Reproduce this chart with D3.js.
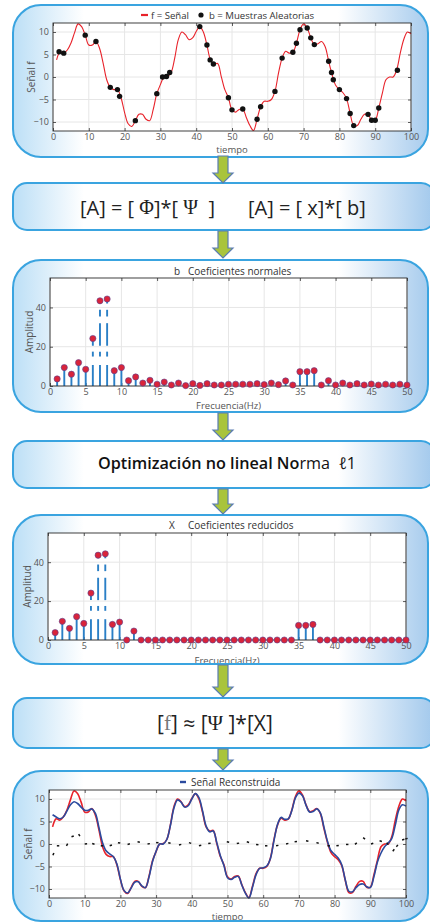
<!DOCTYPE html>
<html><head><meta charset="utf-8">
<script src="https://cdn.jsdelivr.net/npm/d3@7"></script>
<style>
body{margin:0;background:#fff}
svg{display:block}
text{font-family:"Open Sans","Noto Sans",sans-serif}
</style>
</head><body>
<svg id="c" width="430" height="923"></svg>
<script>
// ---------- DATA ----------
// original signal f, t = 1..100
const signalF = [3.8,5.6,5.3,6.0,7.5,9.8,11.8,11.2,9.3,7.1,
 7.1,7.9,6.4,3.1,-0.6,-2.3,-2.8,-2.8,-4.6,-7.9,
 -10.4,-11.0,-9.7,-8.3,-8.3,-9.4,-9.7,-7.2,-3.7,-1.7,
 0.0,0.1,1.0,4.2,8.3,10.0,9.4,8.3,8.7,10.1,
 11.2,10.0,7.1,3.8,2.9,3.0,0.1,-2.8,-4.6,-7.3,
 -7.8,-7.2,-7.1,-9.0,-10.8,-11.9,-9.4,-6.6,-5.4,-5.4,
 -5.0,-3.2,0.9,4.2,5.7,5.3,5.5,7.5,10.5,11.8,
 10.9,8.7,7.2,7.4,7.9,6.8,3.5,0.4,-1.9,-2.8,
 -3.5,-4.8,-8.1,-10.8,-10.8,-9.4,-8.3,-8.3,-9.6,-9.6,
 -6.9,-3.6,-0.6,0.0,0.0,1.6,5.3,8.4,10.0,9.6];
// reconstructed signal, t = 1..100
const signalRec = [6.5,6.0,5.6,6.0,7.3,8.7,9.4,9.0,8.2,7.5,
 7.5,7.8,6.8,3.6,0.3,-1.5,-2.2,-2.8,-4.4,-7.8,
 -10.3,-10.9,-9.8,-8.5,-8.4,-9.3,-9.7,-7.4,-3.9,-1.6,
 0.0,0.0,1.0,4.1,8.0,9.8,9.3,8.2,8.5,10.0,
 11.2,10.3,7.4,4.0,2.7,2.9,0.3,-2.6,-4.8,-7.5,
 -7.9,-7.4,-7.2,-9.1,-10.9,-12.0,-9.6,-6.8,-5.4,-5.3,
 -4.9,-3.3,0.7,4.3,5.9,5.5,5.6,7.4,10.2,11.3,
 10.7,8.6,7.1,7.2,7.8,6.9,3.8,0.6,-1.5,-2.3,
 -3.1,-4.6,-8.0,-10.5,-10.6,-9.7,-9.0,-8.9,-9.5,-9.7,
 -7.3,-4.0,-2.0,-0.6,0.2,1.2,4.2,7.6,8.7,8.4];
// random samples b
const sampleT = [1.7,3,9,12,16,18,18.6,23,29,30.6,31.7,32.6,41,43,43.9,44.8,49,50,53,57,58,62,64,67,68,69,71,72,73,77,77.8,78.3,80,82,83,84,88,89,90,91,96.2];
const sampleV = [5.6,5.3,9.3,7.9,-2.3,-2.8,-4.3,-9.7,-3.7,0.0,0.1,1.0,11.2,7.1,3.8,2.9,-4.6,-7.3,-7.1,-9.4,-6.6,-3.2,4.2,5.5,7.5,10.5,10.9,8.7,7.2,3.5,1.0,-0.6,-2.8,-4.8,-8.1,-10.8,-8.3,-9.6,-9.6,-6.9,1.5];
// reconstruction error (dotted)
const errT = [1.1,2.2,4.9,6.3,8.3,10,12.1,14.5,17,19.3,22,24.8,27.6,30,33.4,36.4,39.2,42,44.6,49.8,52.6,55.4,58,60.5,63.6,66.4,68.8,72,74.9,78,80.5,83.2,85.7,88,90.2,92.6,94.6,96.3,97.3,98.9,99.8];
const errV = [-2.5,-0.4,-0.4,1.6,2.2,0,0.1,-0.4,-0.4,0.3,-0.1,0.5,0,0.3,0.3,-0.2,0.3,-0.4,0.1,0.5,0.1,0.5,-0.1,-0.4,-0.4,0,0.5,0.7,0.3,-0.4,-0.4,-0.1,-0.1,1.4,0,0.7,0.3,-1.6,-0.6,0.9,1.1];
// coefficients, k = 1..50
const coefNormal = [3.6,9.4,6.0,11.9,8.5,24.2,43.4,44.3,7.8,9.4,
 2.7,4.6,1.5,2.9,0.9,2.0,0.5,1.5,0.2,1.2,
 0.3,1.2,0.5,0.5,0.9,0.9,0.9,0.9,1.2,0.7,
 1.5,0.7,2.6,0.5,7.3,7.3,7.8,0.5,2.7,0.5,
 1.5,0.5,1.2,0.5,1.0,0.5,0.9,0.5,0.9,0.5];
const coefReduced = [3.8,9.6,6.0,12.0,8.5,24.1,43.6,44.3,8.0,9.2,
 0,4.6,0,0,0,0,0,0,0,0,
 0,0,0,0,0,0,0,0,0,0,
 0,0,0,0,7.5,7.5,8.0,0,0,0,
 0,0,0,0,0,0,0,0,0,0];
const timeTicks = [0,10,20,30,40,50,60,70,80,90,100];
const signalTicks = [-10,-5,0,5,10];
const freqTicks = [0,5,10,15,20,25,30,35,40,45,50];
const ampTicks = [0,20,40];

// ---------- DRAW ----------
const svg = d3.select('#c');
const defs = svg.append('defs');
const grad = defs.append('linearGradient').attr('id','bg')
  .attr('gradientUnits','userSpaceOnUse').attr('x1',13).attr('x2',430).attr('y1',0).attr('y2',0);
[[0,'#bcdff6'],[0.17,'#ffffff'],[0.78,'#ffffff'],[1,'#a6cbed']].forEach(s=>
  grad.append('stop').attr('offset',s[0]).attr('stop-color',s[1]));

const BOXC = '#3aa4e0';
function boxFill(y0,y1,rx,w){
  svg.append('rect').attr('x',13).attr('y',y0).attr('width',w).attr('height',y1-y0)
    .attr('rx',rx).attr('fill','url(#bg)');
}
function boxStroke(y0,y1,rx,w){
  svg.append('rect').attr('x',13).attr('y',y0).attr('width',w).attr('height',y1-y0)
    .attr('rx',rx).attr('fill','none').attr('stroke',BOXC).attr('stroke-width',2);
}
function arrow(y0,y1){
  const cx=223, sw=5, hw=10, hl=10;
  const p = `M${cx-sw},${y0} L${cx+sw},${y0} L${cx+sw},${y1-hl} L${cx+hw},${y1-hl} L${cx},${y1} L${cx-hw},${y1-hl} L${cx-sw},${y1-hl} Z`;
  svg.append('path').attr('d',p).attr('fill','#a9c43c').attr('stroke','#5a7cb2').attr('stroke-width',1.2);
}

const panels = [[5,157],[260,412],[515,664],[771,921]];
const procs = [[183,230],[441,488],[698,748]];
panels.forEach(p=>boxFill(p[0],p[1],28,415));
procs.forEach(p=>boxFill(p[0],p[1],14,422));

function axes(x, y, xt, yt, xlab, ylab, xlabY, ylabX){
  const g = svg.append('g');
  const [x0,x1]=x.range(), [y0,y1]=[y.range()[1],y.range()[0]];
  g.append('rect').attr('x',x0).attr('y',y0).attr('width',x1-x0).attr('height',y1-y0).attr('fill','#fff');
  xt.forEach(v=>g.append('line').attr('x1',x(v)).attr('x2',x(v)).attr('y1',y0).attr('y2',y1).attr('stroke','#e6e6e6').attr('stroke-width',1));
  yt.forEach(v=>g.append('line').attr('x1',x0).attr('x2',x1).attr('y1',y(v)).attr('y2',y(v)).attr('stroke','#e6e6e6').attr('stroke-width',1));
  const style = s=>{ s.select('.domain').remove();
    s.selectAll('line').attr('stroke','#333').attr('stroke-width',0.8);
    s.selectAll('text').attr('fill','#555').attr('font-size',9).attr('font-family','"Open Sans",sans-serif'); };
  g.append('g').attr('transform',`translate(0,${y1})`).call(d3.axisBottom(x).tickValues(xt).tickSize(-3).tickPadding(3)).call(style);
  g.append('g').attr('transform',`translate(0,${y0})`).call(d3.axisTop(x).tickValues(xt).tickSize(-3).tickFormat('')).call(style);
  g.append('g').attr('transform',`translate(${x0},0)`).call(d3.axisLeft(y).tickValues(yt).tickSize(-3).tickPadding(4)).call(style);
  g.append('g').attr('transform',`translate(${x1},0)`).call(d3.axisRight(y).tickValues(yt).tickSize(-3).tickFormat('')).call(style);
  g.append('text').attr('x',(x0+x1)/2).attr('y',xlabY).attr('text-anchor','middle').attr('dominant-baseline','central')
    .attr('font-size',9.5).attr('fill','#555').text(xlab);
  g.append('text').attr('transform',`translate(${ylabX},${(y0+y1)/2}) rotate(-90)`).attr('text-anchor','middle')
    .attr('dominant-baseline','central').attr('font-size',10).attr('fill','#555').text(ylab);
  return g;
}
function frame(x,y){
  const [x0,x1]=x.range(), [y0,y1]=[y.range()[1],y.range()[0]];
  svg.append('rect').attr('x',x0).attr('y',y0).attr('width',x1-x0).attr('height',y1-y0)
    .attr('fill','none').attr('stroke','#2b2b2b').attr('stroke-width',0.9);
}

// ---- Panel 1: signal + samples ----
{
  const x = d3.scaleLinear().domain([0,100]).range([53,411]);
  const y = d3.scaleLinear().domain([-12,12]).range([131,23]);
  axes(x,y,timeTicks,signalTicks,'tiempo','Señal f',149,31);
  const line = d3.line().x((d,i)=>x(i+1)).y(d=>y(d)).curve(d3.curveCatmullRom.alpha(0.5));
  svg.append('path').datum(signalF).attr('d',line).attr('fill','none').attr('stroke','#e8222a').attr('stroke-width',1.1);
  svg.append('g').selectAll('circle').data(sampleT).join('circle')
    .attr('cx',d=>x(d)).attr('cy',(d,i)=>y(sampleV[i])).attr('r',2.7).attr('fill','#111');
  frame(x,y);
  svg.append('line').attr('x1',141).attr('x2',148).attr('y1',15).attr('y2',15).attr('stroke','#e8222a').attr('stroke-width',2.2);
  svg.append('text').attr('x',151).attr('y',15).attr('dominant-baseline','central').attr('font-size',9.6).attr('fill','#333').text('f = Señal');
  svg.append('circle').attr('cx',201).attr('cy',15).attr('r',2.6).attr('fill','#111');
  svg.append('text').attr('x',209).attr('y',15).attr('dominant-baseline','central').attr('font-size',9.6).attr('fill','#333').text('b = Muestras Aleatorias');
}

// ---- stem panels ----
const gaps = [[10.7,15],[17.5,20.5],[32,35.4],[38.8,42]];
function stemPanel(vals, x0, x1, yTop, yBot, titleY, tLetter, tLetterX, tText, xlabY, ylabX){
  const x = d3.scaleLinear().domain([0,50]).range([x0,x1]);
  const y = d3.scaleLinear().domain([0,55]).range([yBot,yTop]);
  axes(x,y,freqTicks,ampTicks,'Frecuencia(Hz)','Amplitud',xlabY,ylabX);
  const g = svg.append('g');
  vals.forEach((v,i)=>{
    let segs=[[0,v]];
    gaps.forEach(gp=>{
      segs = segs.flatMap(s=>{
        if(gp[1]<=s[0]||gp[0]>=s[1]) return [s];
        const out=[]; if(gp[0]>s[0]) out.push([s[0],gp[0]]); if(gp[1]<s[1]) out.push([gp[1],s[1]]); return out;
      });
    });
    segs.forEach(s=>g.append('line').attr('x1',x(i+1)).attr('x2',x(i+1)).attr('y1',y(s[0])).attr('y2',y(s[1]))
      .attr('stroke','#2a7fc6').attr('stroke-width',1.9));
  });
  frame(x,y);
  svg.append('g').selectAll('circle').data(vals).join('circle')
    .attr('cx',(d,i)=>x(i+1)).attr('cy',d=>y(d)).attr('r',3.1)
    .attr('fill','#d9243a').attr('stroke','#5a3f8f').attr('stroke-width',0.6);
  svg.append('text').attr('x',tLetterX).attr('y',titleY).attr('dominant-baseline','central').attr('font-size',10).attr('fill','#333').text(tLetter);
  svg.append('text').attr('x',188).attr('y',titleY).attr('dominant-baseline','central').attr('font-size',10).attr('fill','#333').text(tText);
}
stemPanel(coefNormal,50,407,278,386,271,'b',174,'Coeficientes normales',405,29);
stemPanel(coefReduced,48,406,533,640,525,'X',169,'Coeficientes reducidos',660,27);

// ---- Panel 4: reconstruction ----
{
  const x = d3.scaleLinear().domain([0,100]).range([49,406]);
  const y = d3.scaleLinear().domain([-12,12]).range([898,790]);
  axes(x,y,timeTicks,signalTicks,'tiempo','Señal f',916,28);
  const line = d3.line().x((d,i)=>x(i+1)).y(d=>y(d)).curve(d3.curveCatmullRom.alpha(0.5));
  svg.append('path').datum(signalF).attr('d',line).attr('fill','none').attr('stroke','#e8222a').attr('stroke-width',1.6);
  svg.append('path').datum(signalRec).attr('d',line).attr('fill','none').attr('stroke','#2b4a9e').attr('stroke-width',1.6);
  const eg = svg.append('g');
  errT.forEach((t,i)=>{
    const px=x(t), py=y(errV[i]);
    const j = Math.min(i+1, errT.length-1), k = j===i ? i-1 : j;
    let dx = x(errT[k])-px, dy = y(errV[k])-py; if(k<i){dx=-dx;dy=-dy;}
    const L = Math.hypot(dx,dy)||1;
    eg.append('line').attr('x1',px).attr('y1',py).attr('x2',px+dx/L*2.4).attr('y2',py+dy/L*2.4)
      .attr('stroke','#111').attr('stroke-width',1.5);
  });
  frame(x,y);
  svg.append('line').attr('x1',180).attr('x2',186).attr('y1',782).attr('y2',782).attr('stroke','#2b4a9e').attr('stroke-width',2.4);
  svg.append('text').attr('x',191).attr('y',782).attr('dominant-baseline','central').attr('font-size',10).attr('fill','#333').text('Señal Reconstruida');
}

// ---- process boxes text ----
const serif='"Liberation Serif","DejaVu Serif",serif';
{
  const t1 = svg.append('text').attr('x',80).attr('y',207).attr('dominant-baseline','central').attr('font-size',20).attr('fill','#222').style('white-space','pre');
  t1.append('tspan').text('[A] = [ ');
  t1.append('tspan').attr('font-family',serif).text('Φ');
  t1.append('tspan').text(']*[ ');
  t1.append('tspan').attr('font-family',serif).text('Ψ');
  t1.append('tspan').text('  ]');
  svg.append('text').attr('x',248).attr('y',207).attr('dominant-baseline','central').attr('font-size',20).attr('fill','#222').style('white-space','pre').text('[A] = [ x]*[ b]');

  const t2 = svg.append('text').attr('x',98).attr('y',463).attr('dominant-baseline','central').attr('font-size',16.2).attr('fill','#111').style('white-space','pre');
  t2.append('tspan').attr('font-weight',600).text('Optimización no lineal No');
  t2.append('tspan').attr('font-weight',400).text('rma  ℓ1');

  const t3 = svg.append('text').attr('x',157).attr('y',723).attr('dominant-baseline','central').attr('font-size',21).attr('fill','#222').style('white-space','pre');
  t3.append('tspan').text('[');
  t3.append('tspan').attr('font-family',serif).attr('fill','#777').text('f');
  t3.append('tspan').text('] ≈ [');
  t3.append('tspan').attr('font-family',serif).text('Ψ');
  t3.append('tspan').text(' ]*[X]');
}

panels.forEach(p=>boxStroke(p[0],p[1],28,415));
procs.forEach(p=>boxStroke(p[0],p[1],14,422));
arrow(156,183);
arrow(231,258);
arrow(413,440);
arrow(489,514);
arrow(665,697);
arrow(749,770);
</script>
</body></html>
